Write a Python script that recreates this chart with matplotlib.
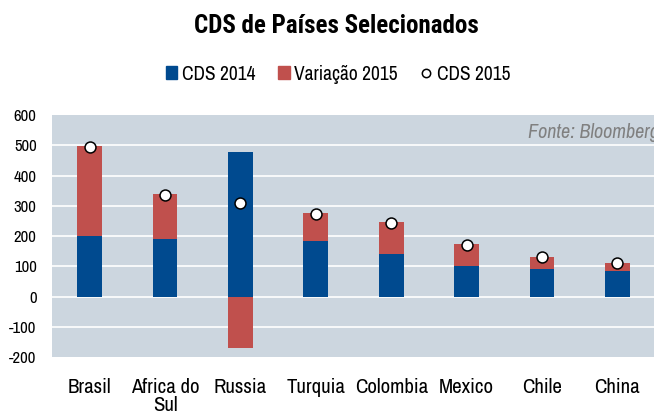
import matplotlib
matplotlib.use('Agg')
import matplotlib.pyplot as plt
from matplotlib.patches import Patch
from matplotlib.lines import Line2D
import numpy as np

plt.rcParams['font.family'] = ['Archivo Narrow', 'DejaVu Sans']

# data
paises = ['Brasil', 'Africa do\nSul', 'Russia', 'Turquia', 'Colombia', 'Mexico', 'Chile', 'China']
cds_2014 = [200, 190, 479, 183, 139, 102, 92, 85]
variacao_2015 = [298, 148, -170, 93, 106, 71, 40, 27]
cds_2015 = [495, 335, 309, 274, 243, 171, 130, 110]
yticks = [-200, -100, 0, 100, 200, 300, 400, 500, 600]

azul = '#004a8f'
vermelho = '#c0504d'
fundo = '#ccd6df'

fig = plt.figure(figsize=(6.54, 4.19), dpi=100)
ax = fig.add_axes([52 / 654, 62 / 419, 603 / 654, 242 / 419])
ax.set_facecolor(fundo)

x = np.arange(len(paises))
w = 0.33
ax.bar(x, cds_2014, width=w, color=azul, zorder=3)
# variation stacks on top when positive, hangs below zero when negative
base = [c if v >= 0 else 0 for c, v in zip(cds_2014, variacao_2015)]
ax.bar(x, variacao_2015, width=w, bottom=base, color=vermelho, zorder=3)
ax.scatter(x, cds_2015, s=62, facecolor='white', edgecolor='black', linewidth=1.1, zorder=4)

ax.set_xlim(-0.5, len(paises) - 0.5)
ax.set_ylim(-200, 600)
ax.set_yticks(yticks)
ax.set_yticklabels([str(t) for t in yticks], fontsize=12)
ax.set_xticks(x)
ax.set_xticklabels(paises, fontsize=15, linespacing=0.95)
ax.tick_params(length=0)
ax.tick_params(axis='x', pad=15)
ax.tick_params(axis='y', pad=11)
for t in yticks[1:-1]:
    ax.axhline(t, color='white', linewidth=1.2, zorder=1)
for s in ax.spines.values():
    s.set_visible(False)

ax.text(1.006, 0.965, 'Fonte: Bloomberg', transform=ax.transAxes, ha='right', va='top',
        fontsize=14.5, style='italic', color='#808080')

fig.text(336 / 654, 1 - 33 / 419, 'CDS de Países Selecionados', ha='center', va='baseline',
         fontsize=18, fontweight='bold', family=['Roboto Condensed', 'DejaVu Sans'])

handles = [Patch(color=azul, label='CDS 2014'),
           Patch(color=vermelho, label='Variação 2015'),
           Line2D([], [], marker='o', linestyle='none', markerfacecolor='white',
                  markeredgecolor='black', markersize=6, markeredgewidth=1.1, label='CDS 2015')]
fig.legend(handles=handles, loc='center', bbox_to_anchor=(338 / 654, 1 - 74 / 419), ncol=3,
           frameon=False, fontsize=14, handlelength=0.6, handleheight=0.6, handletextpad=0.25,
           columnspacing=1.15)

fig.savefig('out.png', dpi=100)
